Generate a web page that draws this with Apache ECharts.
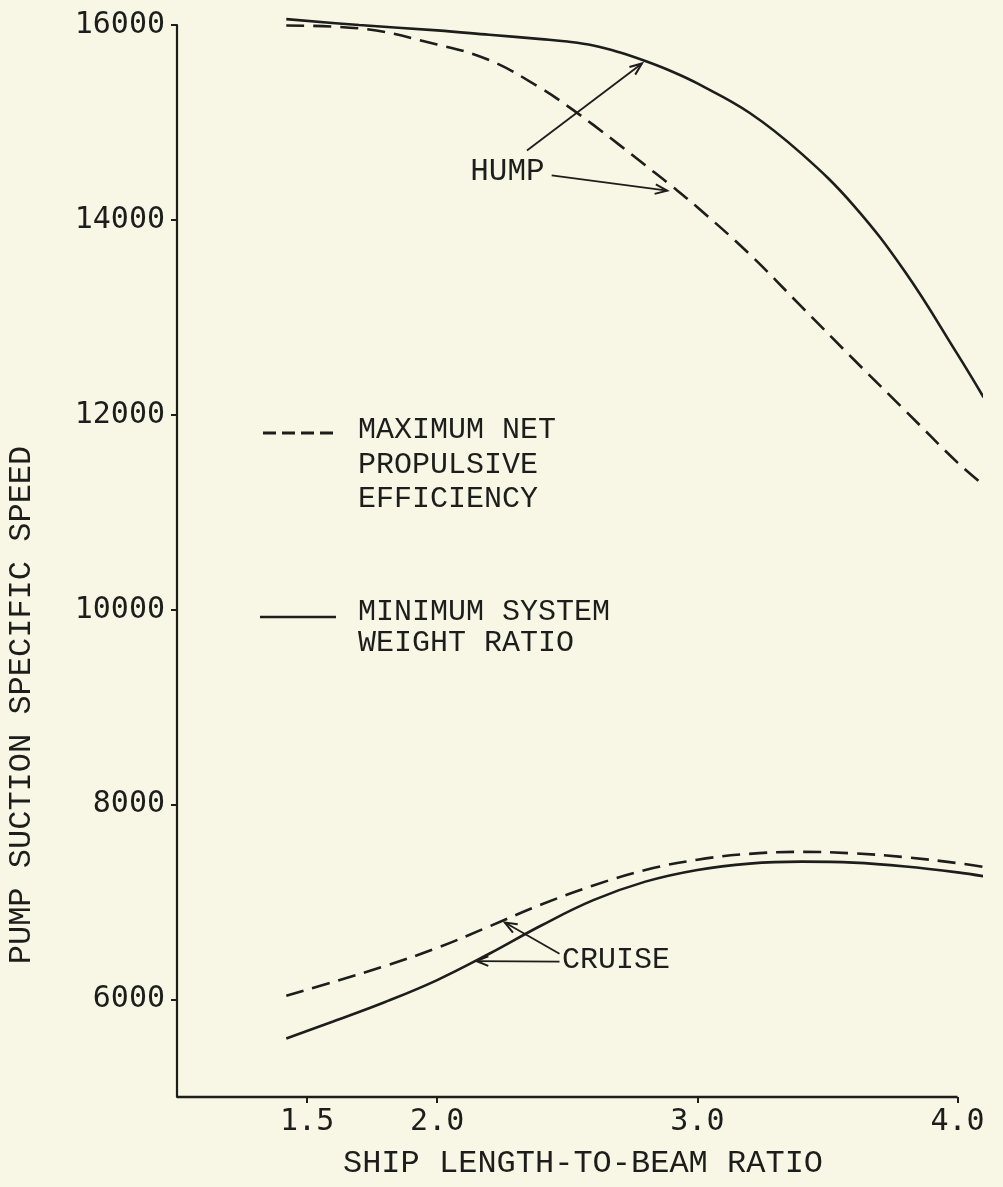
<!DOCTYPE html>
<html><head><meta charset="utf-8">
<script src="https://cdn.jsdelivr.net/npm/echarts@6.0.0/dist/echarts.min.js"></script>
<style>html,body{margin:0;padding:0;background:#f8f6e5;} #c{width:1003px;height:1187px;}</style>
</head><body><div id="c"></div>
<script>
// ---- data ----
const xTickValues = [1.5, 2.0, 3.0, 4.0];
const yTickValues = [6000, 8000, 10000, 12000, 14000, 16000];
const humpX = [1.42, 1.7, 2.0, 2.2, 2.4, 2.5, 2.6, 2.7, 2.8, 2.9, 3.0, 3.2, 3.4, 3.6, 3.8, 4.0, 4.1];
const humpMaxEfficiency = [15995, 15965, 15800, 15640, 15350, 15170, 14975, 14770, 14560, 14350, 14130, 13650, 13110, 12570, 12040, 11510, 11280];
const humpMinWeight = [16060, 16000, 15945, 15900, 15855, 15830, 15790, 15720, 15630, 15525, 15400, 15100, 14680, 14150, 13460, 12620, 12180];
const cruiseX = [1.42, 1.6, 1.8, 2.0, 2.2, 2.4, 2.6, 2.8, 3.0, 3.2, 3.4, 3.6, 3.8, 4.0, 4.1];
const cruiseMaxEfficiency = [6040, 6180, 6345, 6530, 6750, 6975, 7170, 7330, 7435, 7495, 7515, 7500, 7460, 7400, 7360];
const cruiseMinWeight = [5600, 5775, 5975, 6200, 6470, 6760, 7020, 7210, 7330, 7395, 7415, 7405, 7365, 7305, 7265];
const legendLabels = ['MAXIMUM NET\nPROPULSIVE\nEFFICIENCY', 'MINIMUM SYSTEM\nWEIGHT RATIO'];
const xAxisTitle = 'SHIP LENGTH-TO-BEAM RATIO';
const yAxisTitle = 'PUMP SUCTION SPECIFIC SPEED';
const xRange = [1.0, 4.0];
const yRange = [5000, 16000];
// annotation anchors (data space)
const humpText = {label: 'HUMP', at: [2.27, 14490]};
const humpArrows = [[[2.345, 14713], [2.787, 15605]], [[2.44, 14456], [2.884, 14300]]];
const cruiseText = {label: 'CRUISE', at: [2.48, 6405]};
const cruiseArrows = [[[2.47, 6470], [2.26, 6790]], [[2.47, 6390], [2.15, 6395]]];

const INK = '#1d1d1b';
const chart = echarts.init(document.getElementById('c'));
const zip = (xs, ys) => xs.map((x, i) => [x, ys[i]]);
function lineSeries(name, xs, ys, dashed) {
  return {
    name, type: 'line', data: zip(xs, ys), showSymbol: false, smooth: 0.4,
    clip: false, silent: true,
    lineStyle: {color: INK, width: 2.6, type: dashed ? [18, 9] : 'solid'}
  };
}
const tickFont = {fontFamily: 'DejaVu Sans Mono', fontSize: 30, color: INK};
const series = [
  lineSeries('hump-max-eff', humpX, humpMaxEfficiency, true),
  lineSeries('hump-min-weight', humpX, humpMinWeight, false),
  lineSeries('cruise-max-eff', cruiseX, cruiseMaxEfficiency, true),
  lineSeries('cruise-min-weight', cruiseX, cruiseMinWeight, false)
];
// the drawn x axis line stops at 4.0 while the curves run a little further
series[0].markLine = {
  silent: true, symbol: ['none', 'none'], label: {show: false},
  lineStyle: {color: INK, width: 2.4, type: 'solid'},
  data: [[{coord: [xRange[0], yRange[0]]}, {coord: [xRange[1], yRange[0]]}]]
};
chart.setOption({
  backgroundColor: '#f8f6e5',
  animation: false,
  grid: {left: 177, right: 22, top: 25, bottom: 90},
  xAxis: {
    type: 'value', min: xRange[0], max: 4.09,
    axisLine: {show: false},
    axisTick: {show: true, length: 6, customValues: xTickValues, lineStyle: {color: INK, width: 2}},
    axisLabel: Object.assign({customValues: xTickValues, margin: 10, formatter: v => v.toFixed(1)}, tickFont),
    splitLine: {show: false}
  },
  yAxis: {
    type: 'value', min: yRange[0], max: yRange[1],
    axisLine: {show: true, lineStyle: {color: INK, width: 2.2}},
    axisTick: {show: true, length: 6, customValues: yTickValues, lineStyle: {color: INK, width: 2}},
    axisLabel: Object.assign({customValues: yTickValues, margin: 12, formatter: v => String(v)}, tickFont),
    splitLine: {show: false}
  },
  series
});

const typeFont = 'Liberation Mono';
function px(p) { return chart.convertToPixel({gridIndex: 0}, p); }
function arrowEls(a, b) {
  const p0 = px(a), p1 = px(b);
  const ang = Math.atan2(p1[1] - p0[1], p1[0] - p0[0]);
  const L = 13, s = 0.38;
  const h1 = [p1[0] - L * Math.cos(ang - s), p1[1] - L * Math.sin(ang - s)];
  const h2 = [p1[0] - L * Math.cos(ang + s), p1[1] - L * Math.sin(ang + s)];
  return [
    {type: 'line', shape: {x1: p0[0], y1: p0[1], x2: p1[0], y2: p1[1]}, style: {stroke: INK, lineWidth: 1.8}},
    {type: 'polyline', shape: {points: [h1, p1, h2]}, style: {stroke: INK, lineWidth: 2, fill: null}}
  ];
}
const g = [];
const hp = px(humpText.at);
g.push({type: 'text', x: hp[0], y: hp[1], style: {text: humpText.label, font: '31px ' + typeFont, fill: INK, textAlign: 'center', textVerticalAlign: 'middle'}});
humpArrows.forEach(a => g.push(...arrowEls(a[0], a[1])));
const cp = px(cruiseText.at);
g.push({type: 'text', x: cp[0], y: cp[1], style: {text: cruiseText.label, font: '30px ' + typeFont, fill: INK, textAlign: 'left', textVerticalAlign: 'middle'}});
cruiseArrows.forEach(a => g.push(...arrowEls(a[0], a[1])));
// legend
g.push({type: 'line', shape: {x1: 263, y1: 433, x2: 336, y2: 433}, style: {stroke: INK, lineWidth: 3, lineDash: [13, 6]}});
g.push({type: 'text', x: 358, y: 413, style: {text: legendLabels[0], font: '30px ' + typeFont, lineHeight: 34.5, fill: INK, textAlign: 'left', textVerticalAlign: 'top'}});
g.push({type: 'line', shape: {x1: 260, y1: 617, x2: 336, y2: 617}, style: {stroke: INK, lineWidth: 2.6}});
g.push({type: 'text', x: 358, y: 597, style: {text: legendLabels[1], font: '30px ' + typeFont, lineHeight: 31, fill: INK, textAlign: 'left', textVerticalAlign: 'top'}});
// axis titles
g.push({type: 'text', x: 583, y: 1164, style: {text: xAxisTitle, font: '32px ' + typeFont, fill: INK, textAlign: 'center', textVerticalAlign: 'middle'}});
g.push({type: 'text', x: 22, y: 705, rotation: Math.PI / 2, style: {text: yAxisTitle, font: '32px ' + typeFont, fill: INK, textAlign: 'center', textVerticalAlign: 'middle'}});
chart.setOption({graphic: {elements: g}});
</script></body></html>
